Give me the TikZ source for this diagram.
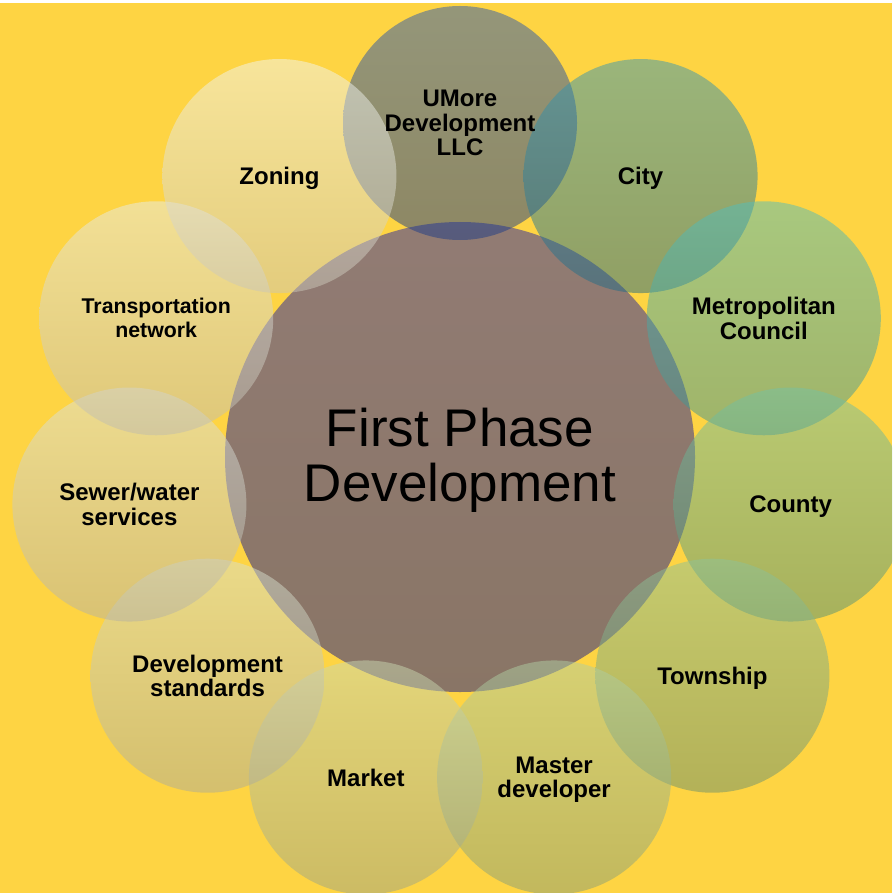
\documentclass[tikz,border=0pt]{standalone}
\usepackage{fontspec}
\setmainfont{Liberation Sans}
\usetikzlibrary{calc}

\definecolor{bgyellow}{RGB}{254,212,67}
\definecolor{hubtop}{RGB}{38,36,165}
\definecolor{hubbot}{RGB}{22,24,137}
\definecolor{umoretop}{RGB}{44,90,177}
\definecolor{umorebot}{RGB}{30,60,133}
\definecolor{citytop}{RGB}{56,152,179}
\definecolor{citybot}{RGB}{36,108,133}
\definecolor{metrotop}{RGB}{84,190,187}
\definecolor{metrobot}{RGB}{66,148,143}
\definecolor{countytop}{RGB}{118,194,163}
\definecolor{countybot}{RGB}{82,144,117}
\definecolor{townshiptop}{RGB}{142,194,153}
\definecolor{townshipbot}{RGB}{106,144,109}
\definecolor{mastertop}{RGB}{176,206,163}
\definecolor{masterbot}{RGB}{136,158,119}
\definecolor{markettop}{RGB}{202,216,177}
\definecolor{marketbot}{RGB}{156,164,133}
\definecolor{standardstop}{RGB}{216,224,207}
\definecolor{standardsbot}{RGB}{172,172,153}
\definecolor{sewertop}{RGB}{222,228,223}
\definecolor{sewerbot}{RGB}{182,178,163}
\definecolor{transporttop}{RGB}{232,236,233}
\definecolor{transportbot}{RGB}{192,188,173}
\definecolor{zoningtop}{RGB}{242,246,243}
\definecolor{zoningbot}{RGB}{202,198,183}

\tikzset{
  bubble/.style={opacity=0.5},
  lbl/.style={font=\fontsize{24}{24.5}\selectfont\bfseries, align=center, inner sep=0pt, text depth=0pt},
  hublbl/.style={font=\fontsize{53}{55}\selectfont, align=center, inner sep=0pt, yshift=-3.5pt}
}

\begin{document}
\begin{tikzpicture}[x=1pt,y=-1pt]
    \clip (0,0) rectangle (892,893);
    \fill[bgyellow] (0,0) rectangle (892,893);
    \fill[white] (0,0) rectangle (892,3);

    \coordinate (hub) at (460,457);
    \shade[bubble, top color=hubtop, bottom color=hubbot] (hub) circle (235pt);

    % ring of eleven stakeholders, clockwise from the top
    \foreach \c [count=\k from 0] in {umore,city,metro,county,township,master,market,standards,sewer,transport,zoning} {
        \coordinate (\c) at ($(hub)+({90-\k*360/11}:334pt)$);
        \shade[bubble, top color=\c top, bottom color=\c bot] (\c) circle (117pt);
    }

    \node[hublbl] (t-hub) at (hub) {First Phase\\Development};
    \node[lbl] (t-umore) at (umore) {UMore\\Development\\LLC};
    \node[lbl] (t-city) at (city) {City};
    \node[lbl] (t-metro) at (metro) {Metropolitan\\Council};
    \node[lbl] (t-county) at (county) {County};
    \node[lbl] (t-township) at (township) {Township};
    \node[lbl] (t-master) at (master) {Master\\developer};
    \node[lbl] (t-market) at (market) {Market};
    \node[lbl] (t-standards) at (standards) {Development\\standards};
    \node[lbl] (t-sewer) at (sewer) {Sewer/water\\services};
    \node[lbl, font=\fontsize{21.3}{24}\selectfont\bfseries] (t-transport) at (transport) {Transportation\\network};
    \node[lbl] (t-zoning) at (zoning) {Zoning};
\end{tikzpicture}
\end{document}
